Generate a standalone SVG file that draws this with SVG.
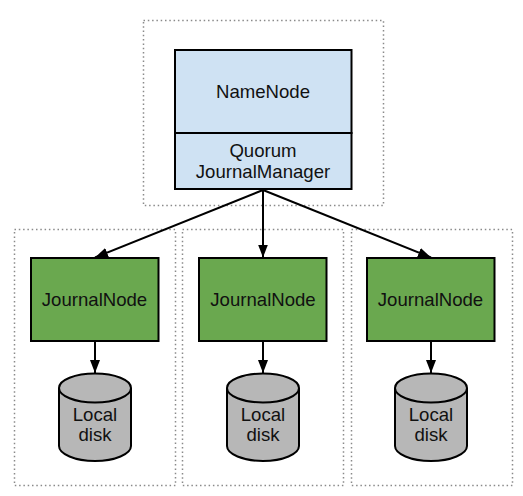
<svg xmlns="http://www.w3.org/2000/svg" width="523" height="496" viewBox="0 0 523 496">
<style>
.frame{fill:none;stroke:#8a8a8a;stroke-width:1.500;stroke-dasharray:1.500 2.800}
.solid{stroke:#000;stroke-width:2}
.blue{fill:#cfe2f3}
.green{fill:#6aa84f}
.disk{fill:#b7b7b7;stroke:#000;stroke-width:2}
.edge{fill:none;stroke:#000;stroke-width:2}
text{font-family:"Liberation Sans",Arial,sans-serif;font-size:18.600px;fill:#111;text-anchor:middle}
</style>
<defs>
<marker id="arrow" markerUnits="userSpaceOnUse" markerWidth="14" markerHeight="14" refX="13" refY="7" orient="auto">
<path d="M0 2L13 7L0 12Z" fill="#000"/>
</marker>
</defs>
<rect width="523" height="496" fill="#fff"/>
<g id="frames">
<rect class="frame" x="143.500" y="20.500" width="240" height="185"/>
<rect class="frame" x="14.500" y="229.500" width="161" height="256"/>
<rect class="frame" x="182.500" y="229.500" width="161" height="256"/>
<rect class="frame" x="351.500" y="229.500" width="161" height="256"/>
</g>
<g id="connectors">
<path class="edge" d="M263 190L95 257.500" marker-end="url(#arrow)"/>
<path class="edge" d="M263 190V257.500" marker-end="url(#arrow)"/>
<path class="edge" d="M263 190L431 257.500" marker-end="url(#arrow)"/>
<path class="edge" d="M95 341V373" marker-end="url(#arrow)"/>
<path class="edge" d="M263 341V373" marker-end="url(#arrow)"/>
<path class="edge" d="M431 341V373" marker-end="url(#arrow)"/>
</g>
<g id="namenode">
<rect class="blue solid" x="175" y="50" width="176.500" height="83"/>
<text x="263" y="97.500">NameNode</text>
</g>
<g id="quorum-journal-manager">
<rect class="blue solid" x="175" y="133" width="176.500" height="56"/>
<text x="263" y="156.500">Quorum</text>
<text x="263" y="178">JournalManager</text>
</g>
<g id="journalnode-1">
<rect class="green solid" x="31" y="258" width="127.500" height="83"/>
<text x="94.500" y="306">JournalNode</text>
</g>
<g id="journalnode-2">
<rect class="green solid" x="199" y="258" width="127.500" height="83"/>
<text x="263" y="306">JournalNode</text>
</g>
<g id="journalnode-3">
<rect class="green solid" x="367" y="258" width="127.500" height="83"/>
<text x="430.500" y="306">JournalNode</text>
</g>
<g id="disk-1">
<path class="disk" d="M59 388V446C59 454 75 461 95 461S131 454 131 446V388"/>
<ellipse class="disk" cx="95" cy="388" rx="36" ry="14.500"/>
<text x="95" y="420.500">Local</text>
<text x="95" y="441">disk</text>
</g>
<g id="disk-2">
<path class="disk" d="M227 388V446C227 454 243 461 263 461S299 454 299 446V388"/>
<ellipse class="disk" cx="263" cy="388" rx="36" ry="14.500"/>
<text x="263" y="420.500">Local</text>
<text x="263" y="441">disk</text>
</g>
<g id="disk-3">
<path class="disk" d="M395 388V446C395 454 411 461 431 461S467 454 467 446V388"/>
<ellipse class="disk" cx="431" cy="388" rx="36" ry="14.500"/>
<text x="431" y="420.500">Local</text>
<text x="431" y="441">disk</text>
</g>
</svg>
